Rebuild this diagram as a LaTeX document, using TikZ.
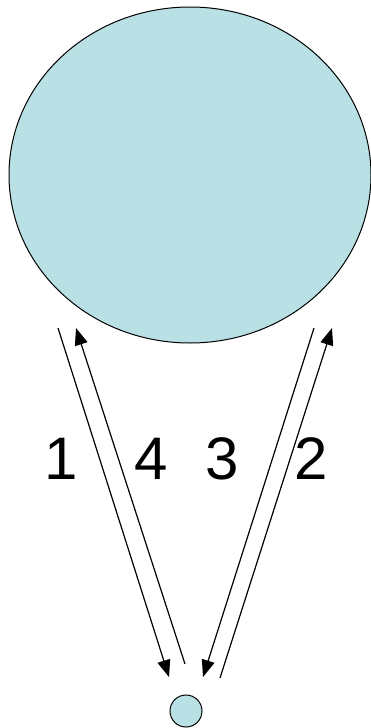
\documentclass[tikz,border=0pt]{standalone}
\usepackage{fontspec}
\setmainfont{Liberation Sans}
\usetikzlibrary{arrows.meta,positioning,shapes.geometric}
\definecolor{pale}{RGB}{185,224,228}
\tikzset{blob/.style={ellipse,draw=black,fill=pale,line width=1pt,inner sep=0pt},msg/.style={-{Triangle[length=17pt,width=13pt]},line width=1.2pt,draw=black},num/.style={font=\fontsize{60}{70}\selectfont,inner sep=0pt}}
\begin{document}
\begin{tikzpicture}[x=1pt,y=-1pt]
\useasboundingbox (0,0) rectangle (371,728);
\node[blob,minimum width=362pt,minimum height=336pt] (server) at (190,175) {};
\node[blob,circle,minimum size=32pt] (client) at (186,711) {};
\coordinate (a1) at (58,328); \coordinate (b1) at (169,677);
\coordinate (a4) at (185,664); \coordinate (b4) at (76,328);
\coordinate (a3) at (314,328); \coordinate (b3) at (203,677);
\coordinate (a2) at (220,678); \coordinate (b2) at (332,328);
\draw[msg] (a1)--(b1);
\draw[msg] (a2)--(b2);
\draw[msg] (a3)--(b3);
\draw[msg] (a4)--(b4);
\node[num] (n1) at (61.5,459) {1};
\node[num] (n4) at (151,459) {4};
\node[num] (n3) at (222,459) {3};
\node[num] (n2) at (311,459) {2};
\end{tikzpicture}
\end{document}
